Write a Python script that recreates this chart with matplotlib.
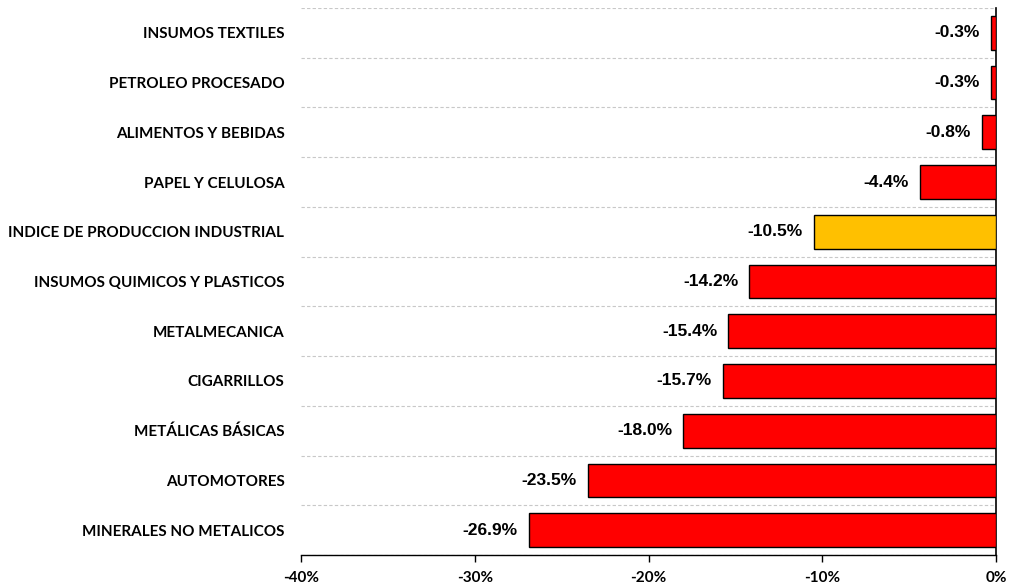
import matplotlib
matplotlib.use("Agg")
import matplotlib.pyplot as plt
import numpy as np

# datos (de arriba hacia abajo)
categorias = [
    "INSUMOS TEXTILES",
    "PETROLEO PROCESADO",
    "ALIMENTOS Y BEBIDAS",
    "PAPEL Y CELULOSA",
    "INDICE DE PRODUCCION INDUSTRIAL",
    "INSUMOS QUIMICOS Y PLASTICOS",
    "METALMECANICA",
    "CIGARRILLOS",
    "METÁLICAS BÁSICAS",
    "AUTOMOTORES",
    "MINERALES NO METALICOS",
]
variacion = [-0.3, -0.3, -0.8, -4.4, -10.5, -14.2, -15.4, -15.7, -18.0, -23.5, -26.9]
destacado = "INDICE DE PRODUCCION INDUSTRIAL"
ticks_x = [-40, -30, -20, -10, 0]

fig = plt.figure(figsize=(10.09, 5.86), dpi=100)
ax = fig.add_axes([301 / 1009, 31 / 586, 695 / 1009, 547 / 586])

y = np.arange(len(categorias))
colores = ["#FFC000" if c == destacado else "#FF0000" for c in categorias]
ax.barh(y, variacion, height=0.68, color=colores, edgecolor="black", linewidth=1, zorder=3)

for yi, v in zip(y, variacion):
    ax.annotate(f"{v:.1f}%", xy=(v, yi), xytext=(-8, 0), textcoords="offset points",
                ha="right", va="center", fontsize=12.5, fontweight="bold",
                family="Liberation Sans", color="black")

ax.set_xlim(-40, 0)
ax.set_ylim(len(categorias) - 0.5, -0.5)
ax.set_yticks(y)
ax.set_yticklabels(categorias, fontsize=11, fontweight="bold", family="Lato")
ax.tick_params(axis="y", length=0, pad=12)
ax.set_yticks(np.arange(len(categorias) + 1) - 0.5, minor=True)
ax.tick_params(axis="y", which="minor", length=0)
ax.grid(True, axis="y", which="minor", color="#C8C8C8", linestyle=(0, (3, 2)), linewidth=0.8, zorder=0)
ax.grid(False, axis="y", which="major")

ax.set_xticks(ticks_x)
ax.set_xticklabels([f"{t}%" for t in ticks_x], fontsize=11, fontweight="bold", family="Lato")
ax.tick_params(axis="x", direction="out", length=5, width=1, pad=6.5, color="black")

ax.spines["left"].set_visible(False)
ax.spines["top"].set_visible(False)
ax.spines["right"].set_visible(True)
ax.spines["right"].set_linewidth(1.2)
ax.spines["bottom"].set_linewidth(1.0)

fig.savefig("out.png", dpi=100)
